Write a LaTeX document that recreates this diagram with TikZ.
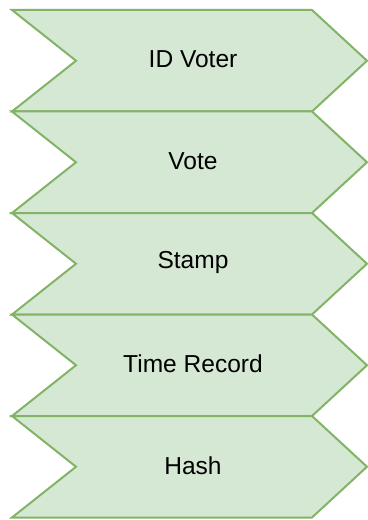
\documentclass[tikz,border=0pt]{standalone}
\usepackage{fontspec}
\setmainfont{Liberation Sans}

\definecolor{chevfill}{RGB}{213,232,212}
\definecolor{chevdraw}{RGB}{130,179,102}

\tikzset{every picture/.style={line width=0.75pt}}
\tikzset{chevron/.style={draw=chevdraw,fill=chevfill,line width=1.5,line join=miter},
	chevtext/.style={font=\fontsize{18.4}{22}\selectfont,text=black,inner sep=0pt}}

\begin{document}
\begin{tikzpicture}[x=0.75pt,y=0.75pt,yscale=-1,xscale=1]
	\useasboundingbox (0,0) rectangle (367,520);
	
	%Chevron: ID Voter
	\draw [chevron]   (12,10) -- (312,10) -- (367,60.75) -- (312,111.5) -- (12,111.5) -- (76,60.75) -- cycle ;
	\node [chevtext] (idvoter) at (193,59.5) {ID Voter};
	
	%Chevron: Vote
	\draw [chevron]   (12,111.5) -- (312,111.5) -- (367,162.25) -- (312,213) -- (12,213) -- (76,162.25) -- cycle ;
	\node [chevtext] (vote) at (193,161) {Vote};
	
	%Chevron: Stamp
	\draw [chevron]   (12,213) -- (312,213) -- (367,263.75) -- (312,314.5) -- (12,314.5) -- (76,263.75) -- cycle ;
	\node [chevtext] (stamp) at (193,262.5) {Stamp};
	
	%Chevron: Time Record
	\draw [chevron]   (12,314.5) -- (312,314.5) -- (367,365.25) -- (312,416) -- (12,416) -- (76,365.25) -- cycle ;
	\node [chevtext] (timerecord) at (193,364) {Time Record};
	
	%Chevron: Hash
	\draw [chevron]   (12,416) -- (312,416) -- (367,466.75) -- (312,517.5) -- (12,517.5) -- (76,466.75) -- cycle ;
	\node [chevtext] (hash) at (193,465.5) {Hash};
	
\end{tikzpicture}
\end{document}
